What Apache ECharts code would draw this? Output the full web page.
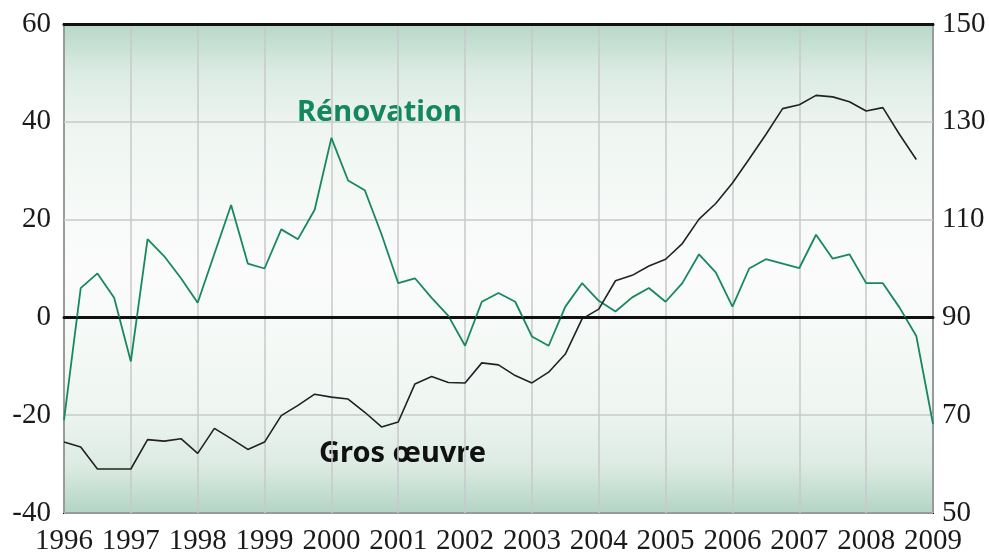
<!DOCTYPE html>
<html>
<head>
<meta charset="utf-8">
<script src="https://cdn.jsdelivr.net/npm/echarts@6/dist/echarts.min.js"></script>
<style>
  html, body { margin: 0; padding: 0; background: #fff; }
  #chart-container { width: 989px; height: 557px; }
</style>
</head>
<body>
<div id="chart-container"></div>
<script>
// quarters 1996 T1 .. 2009 T1
let years = ['1996','1997','1998','1999','2000','2001','2002','2003','2004','2005','2006','2007','2008','2009']
let quarters = []
for (let i = 0; i < years.length; i++) {
    let n = (i == years.length - 1) ? 1 : 4
    for (let q = 1; q <= n; q++) quarters.push(years[i] + ' T' + q)
}

// Rénovation, left axis
let renovation = [
    -21, 6, 9, 4,
    -9, 16, 12.5, 8,
    3, 13, 23, 11,
    10, 18, 16, 22,
    36.7, 28, 26, 17,
    7, 8, 4, 0.3,
    -5.8, 3.2, 5, 3.2,
    -3.9, -5.8, 2.2, 7,
    3.4, 1.2, 4.1, 6,
    3.2, 7, 12.9, 9.2,
    2.2, 10, 11.9, 11,
    10.1, 16.9, 12, 12.9,
    7, 7, 2, -3.8,
    -21.8
]

// Gros oeuvre, right axis (no value yet for 2009 T1)
let grosOeuvre = [
    64.5, 63.5, 59, 59,
    59, 65, 64.7, 65.2,
    62.2, 67.3, 65.2, 63,
    64.5, 69.9, 72, 74.3,
    73.7, 73.3, 70.6, 67.6,
    68.6, 76.4, 77.9, 76.7,
    76.6, 80.7, 80.3, 78.1,
    76.6, 78.8, 82.5, 89.7,
    91.7, 97.5, 98.6, 100.5,
    101.9, 105.1, 110.1, 113.3,
    117.5, 122.4, 127.4, 132.7,
    133.5, 135.4, 135.1, 134.1,
    132.2, 132.9, 127.4, 122.3,
    null
]

let seriesNames = ['Rénovation', 'Gros œuvre']

let dom = document.getElementById('chart-container')
let myChart = echarts.init(dom, null, { renderer: 'canvas' })

let serif = '"Liberation Serif", "DejaVu Serif", serif'
let option = {
    animation: false,
    grid: {
        left: 64, right: 56, top: 24, bottom: 44,
        show: true,
        borderColor: '#111',
        borderWidth: 2,
        backgroundColor: {
            type: 'linear', x: 0, y: 0, x2: 0, y2: 1,
            colorStops: [
                { offset: 0, color: '#b6d7c7' },
                { offset: 0.1, color: '#dbebe3' },
                { offset: 0.22, color: '#eff6f2' },
                { offset: 0.5, color: '#fbfcfb' },
                { offset: 0.78, color: '#eff6f2' },
                { offset: 0.9, color: '#dcebe3' },
                { offset: 1, color: '#b2d4c4' }
            ]
        }
    },
    xAxis: [
        {
            type: 'category',
            data: quarters,
            boundaryGap: false,
            axisLine: { lineStyle: { color: '#111', width: 3 } },
            axisTick: { show: false },
            axisLabel: {
                interval: 3,
                formatter: v => v.slice(0, 4),
                fontFamily: serif,
                fontSize: 29,
                color: '#1a1a1a',
                margin: 14
            },
            splitLine: { show: true, interval: 3, lineStyle: { color: '#c9c9cc', width: 1.5 } }
        },
        {
            type: 'category',
            data: quarters,
            position: 'top',
            boundaryGap: false,
            axisLine: { lineStyle: { color: '#111', width: 3 } },
            axisTick: { show: false },
            axisLabel: { show: false },
            splitLine: { show: false }
        }
    ],
    yAxis: [
        {
            type: 'value',
            min: -40, max: 60, interval: 20,
            axisLine: { show: false },
            axisTick: { show: false },
            axisLabel: { fontFamily: serif, fontSize: 29, color: '#1a1a1a', margin: 13 },
            splitLine: { lineStyle: { color: '#c9c9cc', width: 1.5 } }
        },
        {
            type: 'value',
            min: 50, max: 150, interval: 20,
            position: 'right',
            axisLine: { show: false },
            axisTick: { show: false },
            axisLabel: { fontFamily: serif, fontSize: 29, color: '#1a1a1a', margin: 9 },
            splitLine: { show: false }
        }
    ],
    series: [
        {
            name: seriesNames[0],
            type: 'line',
            data: renovation,
            yAxisIndex: 0,
            symbol: 'none',
            lineStyle: { color: '#17885f', width: 1.8 },
            markLine: {
                silent: true,
                symbol: 'none',
                label: { show: false },
                lineStyle: { color: '#111', width: 1.6, type: 'solid' },
                data: [{ yAxis: 0 }]
            },
            z: 3
        },
        {
            name: seriesNames[1],
            type: 'line',
            data: grosOeuvre,
            yAxisIndex: 1,
            symbol: 'none',
            lineStyle: { color: '#222', width: 1.6 },
            z: 3
        }
    ],
    graphic: [
        {
            type: 'text', left: 297, top: 98,
            style: { text: seriesNames[0], fill: '#14875f', font: 'bold 29px "Noto Sans", sans-serif' }
        },
        {
            type: 'text', left: 319, top: 439,
            style: { text: seriesNames[1], fill: '#111', font: 'bold 29px "Noto Sans", sans-serif' }
        }
    ]
}
myChart.setOption(option)
window.addEventListener('resize', myChart.resize)
</script>
</body>
</html>
